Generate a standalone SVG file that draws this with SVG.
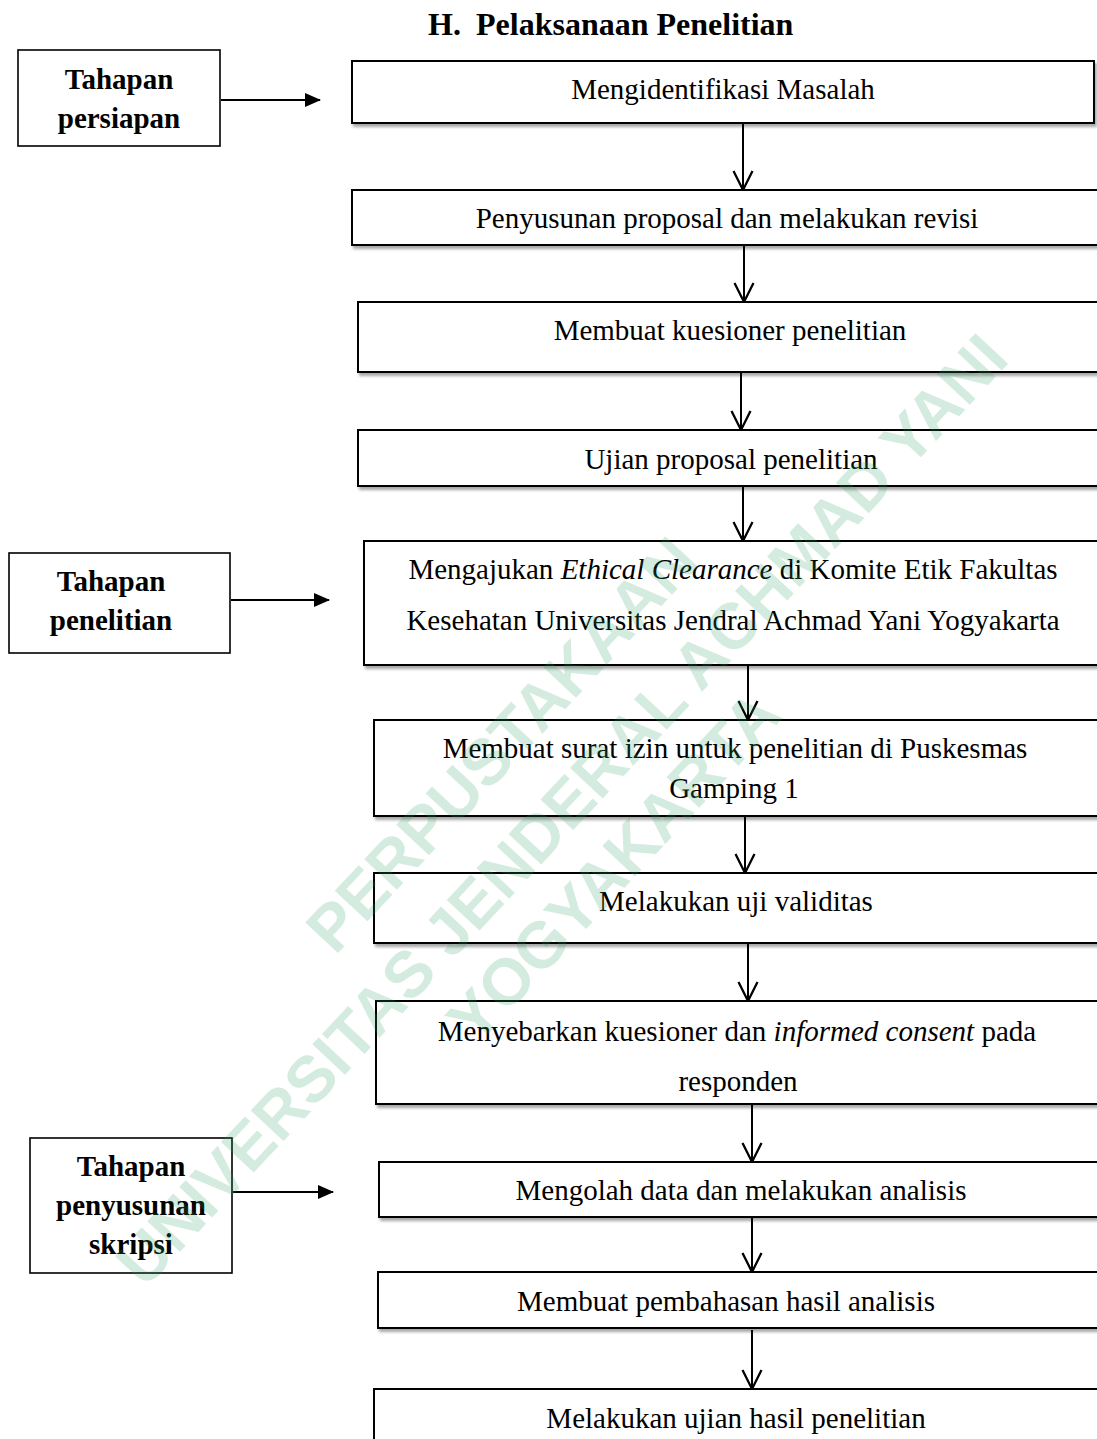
<svg xmlns="http://www.w3.org/2000/svg" width="1097" height="1439" viewBox="0 0 1097 1439">
<style>
.bg{fill:#fff}
.box{fill:#fff;stroke:#000;stroke-width:2;filter:url(#sh)}
.lbox{fill:#fff;stroke:#000;stroke-width:1.6}
.t{font-family:"Liberation Serif","Times New Roman",serif;font-size:29px;fill:#000;text-anchor:middle}
.b{font-family:"Liberation Serif","Times New Roman",serif;font-size:29px;font-weight:bold;fill:#000;text-anchor:middle}
.title{font-family:"Liberation Serif","Times New Roman",serif;font-size:32px;font-weight:bold;fill:#000}
.v{stroke:#000;stroke-width:2;fill:none;marker-end:url(#open)}
.h{stroke:#000;stroke-width:2.2;fill:none;marker-end:url(#solid)}
.wm{font-family:"Liberation Sans",Arial,sans-serif;font-weight:bold;font-size:65px;fill:#2e9e62;opacity:0.2;text-anchor:middle}
</style>
<defs>
<filter id="sh" x="-5%" y="-20%" width="110%" height="150%">
<feDropShadow dx="2" dy="3" stdDeviation="1.6" flood-color="#000" flood-opacity="0.35"/>
</filter>
<marker id="open" markerUnits="userSpaceOnUse" markerWidth="24" markerHeight="24" refX="20" refY="11" orient="auto" viewBox="0 0 24 22">
<path d="M1,1.5 L20,11 L1,20.5" fill="none" stroke="#000" stroke-width="2.3"/>
</marker>
<marker id="solid" markerUnits="userSpaceOnUse" markerWidth="16" markerHeight="14" refX="15" refY="7" orient="auto" viewBox="0 0 16 14">
<path d="M0,0 L16,7 L0,14 Z" fill="#000"/>
</marker>
</defs>
<rect class="bg" x="0" y="0" width="1097" height="1439"/>

<text class="title" x="428" y="35">H.</text>
<text class="title" x="476" y="35">Pelaksanaan Penelitian</text>

<g id="connectors">
<line class="v" x1="743" y1="124" x2="743" y2="190"/>
<line class="v" x1="744" y1="246" x2="744" y2="302"/>
<line class="v" x1="741" y1="373" x2="741" y2="430"/>
<line class="v" x1="743" y1="487" x2="743" y2="541"/>
<line class="v" x1="748" y1="666" x2="748" y2="720"/>
<line class="v" x1="745" y1="817" x2="745" y2="873"/>
<line class="v" x1="748" y1="944" x2="748" y2="1001"/>
<line class="v" x1="752" y1="1105" x2="752" y2="1162"/>
<line class="v" x1="752" y1="1218" x2="752" y2="1272"/>
<line class="v" x1="752" y1="1330" x2="752" y2="1389"/>
<line class="h" x1="221" y1="100" x2="320" y2="100"/>
<line class="h" x1="231" y1="600" x2="329" y2="600"/>
<line class="h" x1="233" y1="1192" x2="333" y2="1192"/>
</g>

<g id="n1"><rect class="box" x="352" y="61" width="742" height="62"/><text class="t" x="723" y="99">Mengidentifikasi Masalah</text></g>
<g id="n2"><rect class="box" x="352" y="190" width="760" height="55"/><text class="t" x="727" y="228">Penyusunan proposal dan melakukan revisi</text></g>
<g id="n3"><rect class="box" x="358" y="302" width="760" height="70"/><text class="t" x="730" y="340">Membuat kuesioner penelitian</text></g>
<g id="n4"><rect class="box" x="358" y="430" width="760" height="56"/><text class="t" x="731" y="469">Ujian proposal penelitian</text></g>
<g id="n5"><rect class="box" x="364" y="541" width="760" height="124"/>
<text class="t" x="733" y="579">Mengajukan <tspan font-style="italic">Ethical Clearance</tspan> di Komite Etik Fakultas</text>
<text class="t" x="733" y="630">Kesehatan Universitas Jendral Achmad Yani Yogyakarta</text></g>
<g id="n6"><rect class="box" x="374" y="720" width="760" height="96"/>
<text class="t" x="735" y="758">Membuat surat izin untuk penelitian di Puskesmas</text>
<text class="t" x="734" y="798">Gamping 1</text></g>
<g id="n7"><rect class="box" x="374" y="873" width="760" height="70"/><text class="t" x="736" y="911">Melakukan uji validitas</text></g>
<g id="n8"><rect class="box" x="376" y="1001" width="760" height="103"/>
<text class="t" x="737" y="1041">Menyebarkan kuesioner dan <tspan font-style="italic">informed consent</tspan> pada</text>
<text class="t" x="738" y="1091">responden</text></g>
<g id="n9"><rect class="box" x="379" y="1162" width="760" height="55"/><text class="t" x="741" y="1200">Mengolah data dan melakukan analisis</text></g>
<g id="n10"><rect class="box" x="378" y="1272" width="760" height="56"/><text class="t" x="726" y="1311">Membuat pembahasan hasil analisis</text></g>
<g id="n11"><rect class="box" x="374" y="1389" width="760" height="80"/><text class="t" x="736" y="1428">Melakukan ujian hasil penelitian</text></g>

<g id="s1"><rect class="lbox" x="18" y="50" width="202" height="96"/>
<text class="b" x="119" y="89">Tahapan</text><text class="b" x="119" y="128">persiapan</text></g>
<g id="s2"><rect class="lbox" x="9" y="553" width="221" height="100"/>
<text class="b" x="111" y="591">Tahapan</text><text class="b" x="111" y="630">penelitian</text></g>
<g id="s3"><rect class="lbox" x="30" y="1138" width="202" height="135"/>
<text class="b" x="131" y="1176">Tahapan</text><text class="b" x="131" y="1215">penyusunan</text><text class="b" x="131" y="1254">skripsi</text></g>

<g id="watermark">
<text class="wm" transform="translate(518,760) rotate(-47)">PERPUSTAKAAN</text>
<text class="wm" transform="translate(578,825) rotate(-47)">UNIVERSITAS JENDERAL ACHMAD YANI</text>
<text class="wm" transform="translate(630,882) rotate(-47)">YOGYAKARTA</text>
</g>
</svg>
